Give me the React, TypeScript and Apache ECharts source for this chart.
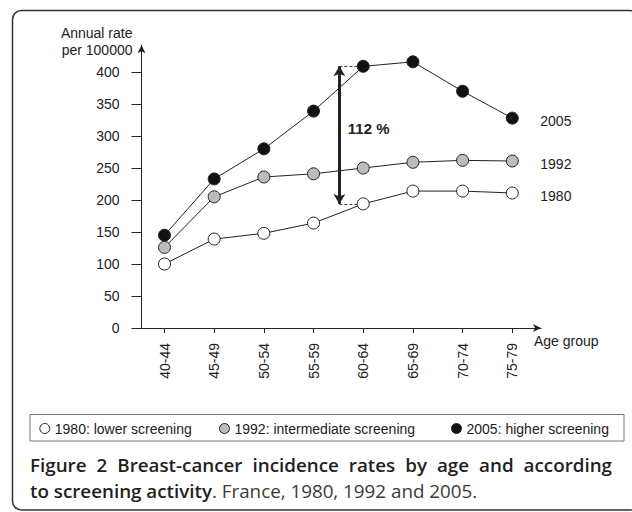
import React, { useEffect, useRef } from "react";
import * as echarts from "echarts";

const categories = ["40-44", "45-49", "50-54", "55-59", "60-64", "65-69", "70-74", "75-79"];
const years = ["1980", "1992", "2005"];
const legendLabels = ["1980: lower screening", "1992: intermediate screening", "2005: higher screening"];
const rate1980 = [100, 139, 148, 164, 194, 214, 214, 211];
const rate1992 = [126, 205, 236, 241, 250, 259, 262, 261];
const rate2005 = [145, 233, 280, 339, 409, 416, 370, 328];
const yTicks = [0, 50, 100, 150, 200, 250, 300, 350, 400];
const increaseLabel = "112 %";
const captionBold1 = "Figure 2 Breast-cancer incidence rates by age and according";
const captionBold2 = "to screening activity";
const captionRest = ". France, 1980, 1992 and 2005.";

const FONT = '"Liberation Sans", Arial, sans-serif';
const CAP_FONT = '"Open Sans", "Noto Sans", sans-serif';
const INK = "#222";
const CAP_SIZE = 18.8;
const CAP_WEIGHT = 600;

function measure(text: string, weight: number | string, size: number): number {
  const c = document.createElement("canvas").getContext("2d");
  if (!c) return text.length * size * 0.55;
  c.font = `${weight} ${size}px ${CAP_FONT}`;
  return c.measureText(text).width;
}

export default function App() {
  const ref = useRef<HTMLDivElement>(null);
  useEffect(() => {
    if (!ref.current) return;
    const chart = echarts.init(ref.current, null, { renderer: "svg" });
    const idx = categories.map((_, i) => i);
    const fills = ["#ffffff", "#bcbcbc", "#111111"];
    const rates = [rate1980, rate1992, rate2005];
    const arrowX = 3.52;
    const dashEnd = 3.88;

    const series: any[] = rates.map((r, k) => ({
      name: legendLabels[k],
      type: "line",
      data: r.map((v, i) => [i, v]),
      symbol: "circle",
      symbolSize: 12,
      showAllSymbol: true,
      itemStyle: { color: fills[k], borderColor: "#222", borderWidth: 1 },
      lineStyle: { color: INK, width: 1 },
      z: 3 + k,
      endLabel: {
        show: true,
        formatter: () => years[k],
        distance: 28,
        offset: [0, 3],
        color: INK,
        fontSize: 14,
        fontFamily: FONT,
      },
    }));

    series[2].markLine = {
      silent: true,
      animation: false,
      label: { show: false },
      symbol: "none",
      data: [
        [
          { coord: [arrowX, rate2005[4]], symbol: "arrow", symbolSize: [9, 10], lineStyle: { type: "solid", width: 3, color: INK } },
          { coord: [arrowX, rate1980[4]], symbol: "arrow", symbolSize: [9, 10] },
        ],
        [
          { coord: [arrowX, rate2005[4]], symbol: "none", lineStyle: { type: [3, 2], width: 1, color: "#444" } },
          { coord: [dashEnd, rate2005[4]], symbol: "none" },
        ],
        [
          { coord: [arrowX, rate1980[4]], symbol: "none", lineStyle: { type: [3, 2], width: 1, color: "#444" } },
          { coord: [dashEnd, rate1980[4]], symbol: "none" },
        ],
      ],
    };
    series[2].markPoint = {
      silent: true,
      animation: false,
      symbol: "circle",
      symbolSize: 0,
      data: [{ coord: [3.69, 312], value: 112 }],
      label: {
        show: true,
        position: "right",
        distance: 0,
        formatter: () => increaseLabel,
        fontSize: 15,
        fontWeight: "bold",
        color: INK,
        fontFamily: FONT,
      },
    };

    const legendLefts = [39.3, 219, 451];

    // justified first caption line
    const capLeft = 30;
    const capRight = 612;
    const words = captionBold1.split(" ");
    const widths = words.map((w) => measure(w, CAP_WEIGHT, CAP_SIZE));
    const total = widths.reduce((a, b) => a + b, 0);
    const gap = (capRight - capLeft - total) / (words.length - 1);
    let cx = capLeft;
    const wordEls = words.map((w, i) => {
      const el = {
        type: "text",
        x: cx,
        y: 465,
        silent: true,
        style: {
          text: w,
          fontSize: CAP_SIZE,
          fontWeight: CAP_WEIGHT,
          fontFamily: CAP_FONT,
          fill: "#231f20",
          verticalAlign: "middle",
        },
      };
      cx += widths[i] + gap;
      return el;
    });

    chart.setOption({
      animation: false,
      grid: { left: 141.5, top: 45.2, width: 399.5, height: 282.8 },
      xAxis: {
        type: "value",
        min: -0.463,
        max: 7.578,
        axisLine: { show: true, onZero: false, symbol: ["none", "arrow"], symbolSize: [6, 8], lineStyle: { color: INK, width: 1 } },
        axisTick: { show: true, length: 5, customValues: idx, lineStyle: { color: INK } },
        axisLabel: {
          customValues: idx,
          formatter: (v: number) => categories[Math.round(v)] ?? "",
          rotate: 90,
          margin: 15,
          fontSize: 14,
          color: INK,
          fontFamily: FONT,
        },
        splitLine: { show: false },
        name: "Age group",
        nameLocation: "end",
        nameGap: -7,
        nameTextStyle: { fontSize: 14, color: INK, fontFamily: FONT, align: "left", verticalAlign: "top", lineHeight: 25 },
      },
      yAxis: {
        type: "value",
        min: 0,
        max: 442,
        axisLine: { show: true, onZero: false, symbol: ["none", "arrow"], symbolSize: [6, 8], lineStyle: { color: INK, width: 1 } },
        axisTick: { show: true, length: 10, customValues: yTicks, lineStyle: { color: INK } },
        axisLabel: { customValues: yTicks, margin: 22, fontSize: 14, color: INK, fontFamily: FONT },
        splitLine: { show: false },
        name: "Annual rate\nper 100000",
        nameLocation: "end",
        nameGap: -13,
        nameTextStyle: { fontSize: 14, color: INK, fontFamily: FONT, align: "right", verticalAlign: "bottom", lineHeight: 17, padding: [0, 9, 0, 0] },
      },
      legend: legendLabels.map((name, k) => ({
        data: [{ name, itemStyle: { color: fills[k], borderColor: "#222", borderWidth: 1 } }],
        left: legendLefts[k],
        top: 421.5,
        padding: 0,
        itemWidth: 10,
        itemHeight: 10,
        icon: "circle",
        selectedMode: false,
        textStyle: { fontSize: 14, color: INK, fontFamily: FONT },
      })),
      graphic: [
        {
          type: "rect",
          shape: { x: 12.5, y: 10.5, width: 626, height: 499.5, r: 9 },
          style: { fill: "none", stroke: "#333", lineWidth: 1.5 },
          silent: true,
        },
        {
          type: "rect",
          shape: { x: 30, y: 414.5, width: 594, height: 26.5 },
          style: { fill: "none", stroke: "#777", lineWidth: 1 },
          silent: true,
        },
        ...wordEls,
        {
          type: "text",
          x: capLeft,
          y: 491,
          style: {
            text: "{b|" + captionBold2 + "}{n|" + captionRest + "}",
            verticalAlign: "middle",
            rich: {
              b: { fontSize: CAP_SIZE, fontWeight: CAP_WEIGHT, fontFamily: CAP_FONT, fill: "#231f20" },
              n: { fontSize: CAP_SIZE, fontWeight: "normal", fontFamily: CAP_FONT, fill: "#3a3a3a" },
            },
          },
          silent: true,
        },
      ],
      series,
    });
    return () => chart.dispose();
  }, []);
  return <div ref={ref} style={{ position: "absolute", left: 0, top: 0, width: 632, height: 512, background: "#fff" }} />;
}
